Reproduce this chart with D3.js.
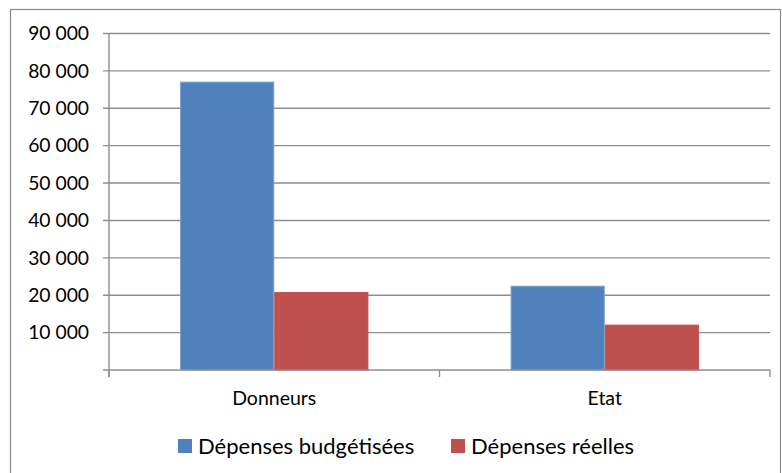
<!DOCTYPE html>
<html>
<head>
<meta charset="utf-8">
<script src="https://cdn.jsdelivr.net/npm/d3@7"></script>
<style>
  html, body { margin: 0; padding: 0; background: #fff; }
  svg { display: block; }
  text { font-family: Lato, "Open Sans", sans-serif; fill: #000; }
</style>
</head>
<body>
<div id="chart"></div>
<script>
// Budgeted vs actual spending, by funding source
const categories = ["Donneurs", "Etat"];
const seriesNames = ["Dépenses budgétisées", "Dépenses réelles"];
const budgeted = [77000, 22400];
const actual = [20700, 12000];
const tickValues = [10000, 20000, 30000, 40000, 50000, 60000, 70000, 80000, 90000];
const colors = ["#4F81BD", "#C0504D"];
const strokes = ["#7A9FD1", "#C0504D"];

const W = 782, H = 473;
const svg = d3.select("#chart").append("svg").attr("width", W).attr("height", H);

// chart frame
svg.append("rect")
  .attr("x", 10.5).attr("y", 9.5)
  .attr("width", 770).attr("height", 480)
  .attr("fill", "#fff").attr("stroke", "#8a8a8a").attr("stroke-width", 1.2);

const plotLeft = 109, plotRight = 770, plotTop = 33.5, plotBottom = 370;

const y = d3.scaleLinear().domain([0, 90000]).range([plotBottom, plotTop]);
const x0 = d3.scaleBand().domain(categories).range([plotLeft, plotRight]).padding(0);
const x1 = d3.scaleBand().domain(seriesNames).range([0, x0.bandwidth()])
  .paddingInner(0).paddingOuter(0.755);

const fmt = v => d3.format(",")(v).replace(/,/g, " ");

// horizontal gridlines with tick stubs
const grid = svg.append("g");
grid.selectAll("line").data(tickValues).join("line")
  .attr("x1", plotLeft - 6).attr("x2", plotRight)
  .attr("y1", d => y(d)).attr("y2", d => y(d))
  .attr("stroke", "#8e8e8e").attr("stroke-width", 1.4);

// y axis labels
svg.append("g").selectAll("text").data(tickValues).join("text")
  .attr("x", 89).attr("y", d => y(d))
  .attr("dy", "0.35em")
  .attr("text-anchor", "end")
  .style("font-size", "19.3px")
  .text(fmt);

// bars
const rows = categories.map((c, i) => ({ cat: c, vals: [budgeted[i], actual[i]] }));
const groups = svg.append("g").selectAll("g").data(rows).join("g")
  .attr("transform", d => `translate(${x0(d.cat)},0)`);
groups.selectAll("rect")
  .data(d => d.vals.map((v, j) => ({ s: seriesNames[j], v, j })))
  .join("rect")
  .attr("x", d => x1(d.s) + 0.5)
  .attr("width", x1.bandwidth() - 1)
  .attr("y", d => y(d.v))
  .attr("height", d => y(0) - y(d.v))
  .attr("fill", d => colors[d.j])
  .attr("stroke", d => strokes[d.j])
  .attr("stroke-width", 1);

// y axis line
svg.append("line")
  .attr("x1", plotLeft).attr("x2", plotLeft)
  .attr("y1", plotTop).attr("y2", plotBottom + 7)
  .attr("stroke", "#8e8e8e").attr("stroke-width", 1.4);

// x axis line and category ticks
svg.append("line")
  .attr("x1", plotLeft - 6).attr("x2", plotRight)
  .attr("y1", plotBottom).attr("y2", plotBottom)
  .attr("stroke", "#8e8e8e").attr("stroke-width", 1.6);
const catTicks = categories.map(c => x0(c)).concat([x0.range()[1]]);
svg.append("g").selectAll("line").data(catTicks).join("line")
  .attr("x1", d => d).attr("x2", d => d)
  .attr("y1", plotBottom).attr("y2", plotBottom + 7)
  .attr("stroke", "#8e8e8e").attr("stroke-width", 1.4);

// category labels
svg.append("g").selectAll("text").data(categories).join("text")
  .attr("x", d => x0(d) + x0.bandwidth() / 2)
  .attr("y", 405)
  .attr("text-anchor", "middle")
  .style("font-size", "19.5px")
  .text(d => d);

// legend
const legendX = [178, 451];
const legend = svg.append("g").selectAll("g").data(seriesNames).join("g")
  .attr("transform", (d, i) => `translate(${legendX[i]},439)`);
legend.append("rect")
  .attr("width", 14).attr("height", 14)
  .attr("fill", (d, i) => colors[i]);
legend.append("text")
  .attr("x", 20).attr("y", 14.5)
  .style("font-size", "22px")
  .text(d => d);
</script>
</body>
</html>
